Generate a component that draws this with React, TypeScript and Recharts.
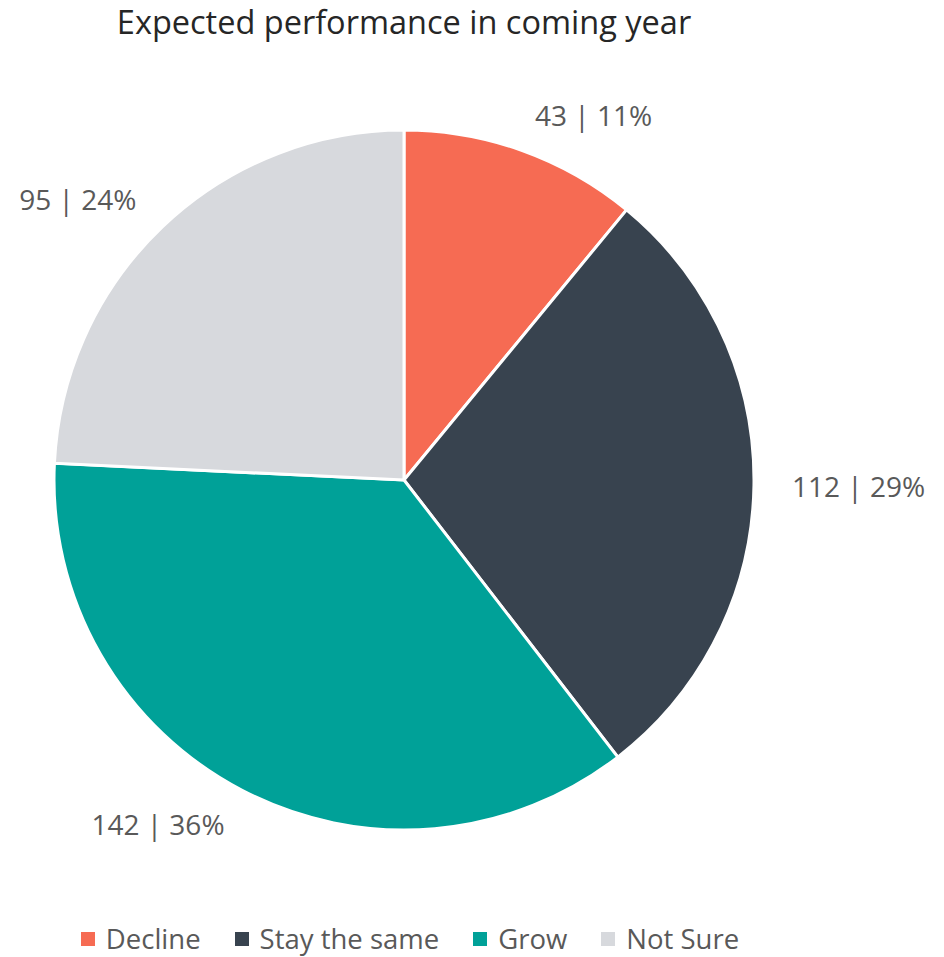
import React from 'react';
import { PieChart, Pie, Cell, Legend } from 'recharts';

const categories = ['Decline', 'Stay the same', 'Grow', 'Not Sure'];
const counts = [43, 112, 142, 95];
const colors = ['#F66B53', '#38434F', '#00A198', '#D7D9DD'];

const data = categories.map((name, i) => ({ name, value: counts[i] }));
const total = counts.reduce((a, b) => a + b, 0);

const RAD = Math.PI / 180;

function renderLabel(props: any) {
  const { cx, cy, midAngle, outerRadius, value } = props;
  const r = outerRadius + 38;
  const x = cx + r * Math.cos(-midAngle * RAD);
  const y = cy + r * Math.sin(-midAngle * RAD);
  const pct = Math.round((value / total) * 100);
  return (
    <text
      x={x}
      y={y}
      fill="#595959"
      fontSize={28}
      fontFamily="'Open Sans', sans-serif"
      textAnchor={x > cx ? 'start' : 'end'}
      dominantBaseline="central"
    >
      {`${value} | ${pct}%`}
    </text>
  );
}

function renderLegend() {
  return (
    <div style={{ display: 'flex', justifyContent: 'center', gap: 34, fontFamily: "'Open Sans', sans-serif", fontSize: 27.5, color: '#595959', lineHeight: '36px' }}>
      {categories.map((c, i) => (
        <div key={c} style={{ display: 'flex', alignItems: 'center' }}>
          <span style={{ width: 14, height: 14, background: colors[i], display: 'inline-block', marginRight: 11 }} />
          <span>{c}</span>
        </div>
      ))}
    </div>
  );
}

export default function App() {
  return (
    <div style={{ position: 'absolute', left: 0, top: 0, width: 944, height: 957, background: '#fff' }}>
      <div style={{ position: 'absolute', left: 0, top: 0, width: 808, textAlign: 'center', fontFamily: "'Open Sans', sans-serif", fontSize: 32.5, color: '#262626', lineHeight: '44px' }}>
        Expected performance in coming year
      </div>
      <PieChart width={944} height={957} margin={{ top: 0, right: 0, bottom: 0, left: 0 }}>
        <Pie
          data={data}
          dataKey="value"
          nameKey="name"
          cx={404}
          cy={480}
          outerRadius={350}
          startAngle={90}
          endAngle={-270}
          stroke="#fff"
          strokeWidth={3}
          label={renderLabel}
          labelLine={false}
          isAnimationActive={false}
        >
          {data.map((d, i) => (
            <Cell key={d.name} fill={colors[i]} />
          ))}
        </Pie>
        <Legend content={renderLegend} wrapperStyle={{ left: 0, width: 820, bottom: 0 }} />
      </PieChart>
    </div>
  );
}
